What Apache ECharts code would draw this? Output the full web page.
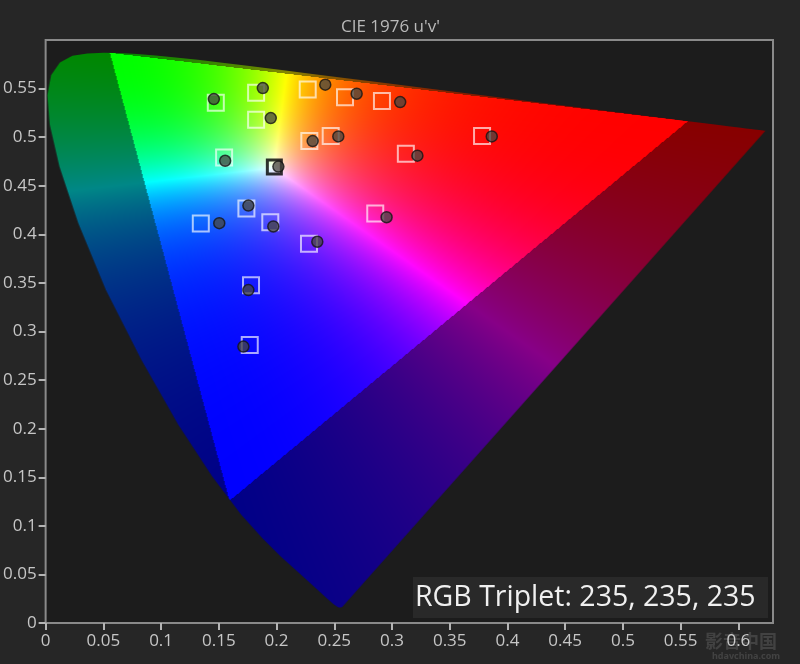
<!DOCTYPE html>
<html><head><meta charset="utf-8">
<script src="https://cdn.jsdelivr.net/npm/echarts@6/dist/echarts.min.js"></script>
<style>html,body{margin:0;padding:0;background:#262626;}#chart{width:800px;height:664px;}</style>
</head><body><div id="chart"></div>
<script>
// ---------- text ----------
const chartTitle = "CIE 1976 u'v'";
const tripletLabel = "RGB Triplet: 235, 235, 235";

// ---------- axes ----------
const uRange = [0, 0.63];
const vRange = [0, 0.6];
const xTickValues = [0, 0.05, 0.1, 0.15, 0.2, 0.25, 0.3, 0.35, 0.4, 0.45, 0.5, 0.55, 0.6];
const yTickValues = [0, 0.05, 0.1, 0.15, 0.2, 0.25, 0.3, 0.35, 0.4, 0.45, 0.5, 0.55];

// ---------- CIE 1931 2° spectral locus (x, y) ----------
const locusNm = [380,385,390,395,400,405,410,415,420,425,430,435,440,445,450,455,460,465,470,475,480,485,490,495,500,505,510,515,520,525,530,535,540,545,550,555,560,565,570,575,580,585,590,595,600,605,610,615,620,625,630,635,640,645,650,655,660,665,670,680,690,700];
const locusX = [0.1741,0.1740,0.1738,0.1736,0.1733,0.1730,0.1726,0.1721,0.1714,0.1703,0.1689,0.1669,0.1644,0.1611,0.1566,0.1510,0.1440,0.1355,0.1241,0.1096,0.0913,0.0687,0.0454,0.0235,0.0082,0.0039,0.0139,0.0389,0.0743,0.1142,0.1547,0.1929,0.2296,0.2658,0.3016,0.3373,0.3731,0.4087,0.4441,0.4788,0.5125,0.5448,0.5752,0.6029,0.6270,0.6482,0.6658,0.6801,0.6915,0.7006,0.7079,0.7140,0.7190,0.7230,0.7260,0.7283,0.7300,0.7311,0.7320,0.7334,0.7344,0.7347];
const locusY = [0.0050,0.0050,0.0049,0.0049,0.0048,0.0048,0.0048,0.0048,0.0051,0.0058,0.0069,0.0086,0.0109,0.0138,0.0177,0.0227,0.0297,0.0399,0.0578,0.0868,0.1327,0.2007,0.2950,0.4127,0.5384,0.6548,0.7502,0.8120,0.8338,0.8262,0.8059,0.7816,0.7543,0.7243,0.6923,0.6589,0.6245,0.5896,0.5547,0.5202,0.4866,0.4544,0.4242,0.3965,0.3725,0.3514,0.3340,0.3197,0.3083,0.2993,0.2920,0.2859,0.2809,0.2770,0.2740,0.2717,0.2700,0.2689,0.2680,0.2666,0.2656,0.2653];

// ---------- measured / target chromaticities (u', v') ----------
const targetU = [0.1474,0.1823,0.2270,0.2593,0.2913,0.1823,0.2284,0.2469,0.1546,0.3120,0.3780,0.1344,0.1739,0.1946,0.2855,0.2281,0.1779,0.1768];
const targetV = [0.5355,0.5457,0.5491,0.5412,0.5371,0.5180,0.4960,0.5011,0.4792,0.4830,0.5011,0.4111,0.4265,0.4124,0.4214,0.3903,0.3477,0.2861];
const whiteTargetU = [0.1981];
const whiteTargetV = [0.4693];
const measuredU = [0.1457,0.1881,0.2422,0.2694,0.3071,0.1950,0.2313,0.2535,0.1555,0.2016,0.3220,0.3864,0.1504,0.1756,0.1972,0.2953,0.2353,0.1756,0.1713];
const measuredV = [0.5392,0.5505,0.5540,0.5447,0.5361,0.5196,0.4960,0.5008,0.4757,0.4697,0.4810,0.5008,0.4115,0.4296,0.4081,0.4176,0.3924,0.3426,0.2845];

// ---------- helpers ----------
function xyToUV(x, y) { const d = -2 * x + 12 * y + 3; return [4 * x / d, 9 * y / d]; }
const locusUV = locusX.map((x, i) => xyToUV(x, locusY[i]));
const zip = (a, b) => a.map((v, i) => [v, b[i]]);

function uvColor(u, v) {
  const d = 6 * u - 16 * v + 12;
  const x = 9 * u / d, y = 4 * v / d;
  if (y <= 1e-6) return [0, 0, 0];
  const X = x / y, Y = 1, Z = (1 - x - y) / y;
  let r = 1.7166512 * X - 0.3556708 * Y - 0.2533663 * Z;
  let g = -0.6666844 * X + 1.6164812 * Y + 0.0157685 * Z;
  let b = 0.0176399 * X - 0.0427706 * Y + 0.9421031 * Z;
  const outside = r < 0 || g < 0 || b < 0;
  r = Math.max(r, 0); g = Math.max(g, 0); b = Math.max(b, 0);
  const m = Math.max(r, g, b) || 1;
  const p = outside ? 1.2 : 1.9;
  const k = outside ? 0.53 : 1;
  return [Math.pow(r / m, p) * 255 * k, Math.pow(g / m, p) * 255 * k, Math.pow(b / m, p) * 255 * k];
}

let gamutCache = null;
function gamutCanvas(w, h, poly) {
  const key = w + 'x' + h;
  if (gamutCache && gamutCache.key === key) return gamutCache.canvas;
  const tmp = document.createElement('canvas'); tmp.width = w; tmp.height = h;
  const tctx = tmp.getContext('2d');
  const img = tctx.createImageData(w, h);
  for (let j = 0; j < h; j++) {
    const v = vRange[1] - (j + 0.5) / h * (vRange[1] - vRange[0]);
    for (let i = 0; i < w; i++) {
      const u = uRange[0] + (i + 0.5) / w * (uRange[1] - uRange[0]);
      const c = uvColor(u, v);
      const o = (j * w + i) * 4;
      img.data[o] = c[0]; img.data[o + 1] = c[1]; img.data[o + 2] = c[2]; img.data[o + 3] = 255;
    }
  }
  tctx.putImageData(img, 0, 0);
  const cv = document.createElement('canvas'); cv.width = w; cv.height = h;
  const ctx = cv.getContext('2d');
  ctx.beginPath();
  poly.forEach((p, k) => k ? ctx.lineTo(p[0], p[1]) : ctx.moveTo(p[0], p[1]));
  ctx.closePath();
  ctx.clip();
  ctx.drawImage(tmp, 0, 0);
  gamutCache = { key, canvas: cv };
  return cv;
}

function renderGamut(params, api) {
  const p0 = api.coord([uRange[0], vRange[1]]);
  const p1 = api.coord([uRange[1], vRange[0]]);
  const w = Math.round(p1[0] - p0[0]), h = Math.round(p1[1] - p0[1]);
  const poly = locusUV.map(p => { const q = api.coord(p); return [q[0] - p0[0], q[1] - p0[1]]; });
  return { type: 'image', style: { image: gamutCanvas(w, h, poly), x: p0[0], y: p0[1], width: w, height: h }, silent: true };
}

const FONT = "'Open Sans', 'Noto Sans', sans-serif";
const chart = echarts.init(document.getElementById('chart'), null, { renderer: 'canvas' });
chart.setOption({
  backgroundColor: '#262626',
  animation: false,
  title: { text: chartTitle, left: 336, top: 14, textStyle: { color: '#b9b9b9', fontSize: 17, fontWeight: 'normal', fontFamily: FONT } },
  grid: { left: 45, right: 27, top: 40, bottom: 41, show: true, backgroundColor: '#1c1c1c', borderColor: '#8a8a8a', borderWidth: 2 },
  xAxis: {
    type: 'value', min: uRange[0], max: uRange[1],
    axisLine: { show: false },
    splitLine: { show: false },
    axisTick: { show: true, length: 7, customValues: xTickValues, lineStyle: { color: '#b5b5b5', width: 2 } },
    axisLabel: { customValues: xTickValues, color: '#c6c6c6', fontSize: 17, fontFamily: FONT, margin: 10 }
  },
  yAxis: {
    type: 'value', min: vRange[0], max: vRange[1],
    axisLine: { show: false },
    splitLine: { show: false },
    axisTick: { show: true, length: 7, customValues: yTickValues, lineStyle: { color: '#b5b5b5', width: 2 } },
    axisLabel: { customValues: yTickValues, color: '#c6c6c6', fontSize: 17, fontFamily: FONT, margin: 9 }
  },
  series: [
    { type: 'custom', name: 'gamut', coordinateSystem: 'cartesian2d', data: [[0, 0]], renderItem: renderGamut, z: 1, silent: true, clip: true },
    { type: 'scatter', name: 'Target', data: zip(targetU, targetV), symbol: 'rect', symbolSize: 16, z: 3, silent: true,
      itemStyle: { color: 'rgba(0,0,0,0)', borderColor: 'rgba(255,255,255,0.82)', borderWidth: 2 } },
    { type: 'scatter', name: 'White target', data: zip(whiteTargetU, whiteTargetV), symbol: 'rect', symbolSize: 14, z: 4, silent: true,
      itemStyle: { color: 'rgba(0,0,0,0)', borderColor: '#000', borderWidth: 3 } },
    { type: 'scatter', name: 'Measured', data: zip(measuredU, measuredV), symbol: 'circle', symbolSize: 11, z: 5, silent: true,
      itemStyle: { color: 'rgba(70,70,64,0.95)', borderColor: '#151515', borderWidth: 1.5 } }
  ],
  graphic: [
    { type: 'rect', shape: { x: 413, y: 577, width: 355, height: 41 }, style: { fill: '#292929' }, z: 100 },
    { type: 'text', x: 415, y: 598, style: { text: tripletLabel, fill: '#f0f0f0', font: "28.5px 'Open Sans', sans-serif", verticalAlign: 'middle' }, z: 101 },
    { type: 'text', x: 705, y: 641, style: { text: '影音中国', fill: 'rgba(255,255,255,0.13)', font: "bold 18px 'Noto Sans CJK SC'", verticalAlign: 'middle' }, z: 101 },
    { type: 'text', x: 712, y: 656, style: { text: 'hdavchina.com', fill: 'rgba(255,255,255,0.13)', font: "bold 9px 'Noto Sans', sans-serif", verticalAlign: 'middle' }, z: 101 }
  ]
});
</script></body></html>
